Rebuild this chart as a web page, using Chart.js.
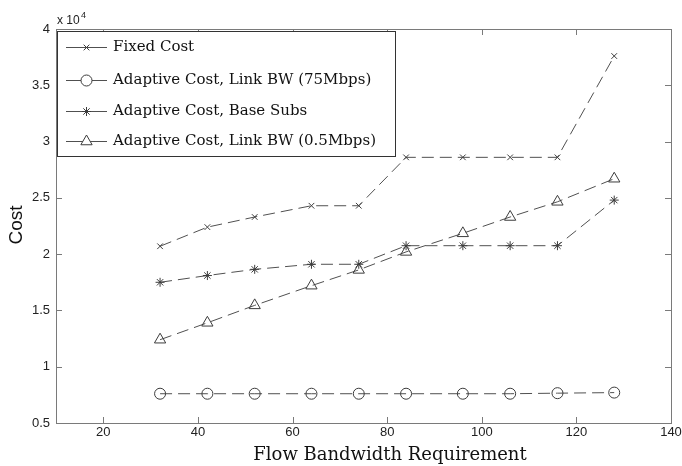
<!DOCTYPE html>
<html>
<head>
<meta charset="utf-8">
<script src="https://cdn.jsdelivr.net/npm/chart.js@4.4.1/dist/chart.umd.min.js"></script>
<style>
  html, body { margin: 0; padding: 0; background: #fff; }
  #wrap { width: 682px; height: 466px; }
</style>
</head>
<body>
<div id="wrap"><canvas id="chart" width="682" height="466"></canvas></div>
<script>
// values (cost in units, axis shows x 10^4)
const flowBw = [32, 42, 52, 64, 74, 84, 96, 106, 116, 128];
const fixedCost = [20700, 22400, 23300, 24300, 24300, 28600, 28600, 28600, 28600, 37600];
const adaptiveLink75 = [7600, 7600, 7600, 7600, 7600, 7600, 7600, 7600, 7650, 7700];
const adaptiveBaseSubs = [17500, 18100, 18650, 19100, 19100, 20750, 20750, 20750, 20750, 24800];
const adaptiveLink05 = [12400, 13900, 15450, 17200, 18600, 20200, 21850, 23300, 24650, 26700];

const seriesNames = [
  "Fixed Cost",
  "Adaptive Cost, Link BW (75Mbps)",
  "Adaptive Cost, Base Subs",
  "Adaptive Cost, Link BW (0.5Mbps)"
];
const xTicks = [20, 40, 60, 80, 100, 120, 140];
const yTicks = [5000, 10000, 15000, 20000, 25000, 30000, 35000, 40000];

const lineColor = "#505050";
const markColor = "#3c3c3c";

const makeSet = (label, values, pointStyle, radius) => ({
  label,
  data: flowBw.map((x, i) => ({ x, y: values[i] })),
  borderColor: lineColor,
  borderWidth: 1,
  borderDash: [12, 6],
  tension: 0,
  fill: false,
  pointStyle,
  pointRadius: radius,
  pointBorderColor: markColor,
  pointBorderWidth: 1,
  pointBackgroundColor: "rgba(0,0,0,0)"
});

const datasets = [
  makeSet(seriesNames[0], fixedCost, "crossRot", 4),
  makeSet(seriesNames[1], adaptiveLink75, "circle", 5.5),
  makeSet(seriesNames[2], adaptiveBaseSubs, "star", 4.5),
  makeSet(seriesNames[3], adaptiveLink05, "triangle", 6.5)
];

// box around the plot with inward ticks, like the original figure
const framePlugin = {
  id: "frame",
  afterDatasetsDraw(chart) {
    const { ctx, chartArea: a, scales: { x, y } } = chart;
    ctx.save();
    ctx.strokeStyle = "#7a7a7a";
    ctx.lineWidth = 1;
    ctx.setLineDash([]);
    ctx.strokeRect(Math.round(a.left) + 0.5, Math.round(a.top) + 0.5,
      Math.round(a.right - a.left), Math.round(a.bottom - a.top));
    ctx.beginPath();
    x.ticks.forEach(t => {
      const px = Math.round(x.getPixelForValue(t.value)) + 0.5;
      ctx.moveTo(px, a.bottom); ctx.lineTo(px, a.bottom - 6);
      ctx.moveTo(px, a.top); ctx.lineTo(px, a.top + 6);
    });
    y.ticks.forEach(t => {
      const py = Math.round(y.getPixelForValue(t.value)) + 0.5;
      ctx.moveTo(a.left, py); ctx.lineTo(a.left + 6, py);
      ctx.moveTo(a.right, py); ctx.lineTo(a.right - 6, py);
    });
    ctx.stroke();
    ctx.restore();
  }
};

// legend box in the upper left corner and the axis titles
const legendPlugin = {
  id: "boxLegend",
  afterDraw(chart) {
    const { ctx, chartArea: a } = chart;
    ctx.save();
    const left = a.left + 1, top = a.top + 2, right = 395, bottom = 156;
    ctx.fillStyle = "#fff";
    ctx.fillRect(left, top, right - left, bottom - top);
    ctx.strokeStyle = "#333";
    ctx.lineWidth = 1;
    ctx.strokeRect(left + 0.5, top + 0.5, right - left, bottom - top);

    const rows = [47, 80, 111, 141];
    chart.data.datasets.forEach((ds, i) => {
      const yy = rows[i];
      ctx.strokeStyle = lineColor;
      ctx.beginPath();
      ctx.moveTo(66, yy + 0.5); ctx.lineTo(107, yy + 0.5);
      ctx.stroke();
      ctx.strokeStyle = markColor;
      ctx.fillStyle = "#fff";
      Chart.helpers.drawPoint(ctx, {
        pointStyle: ds.pointStyle, radius: ds.pointRadius, rotation: 0, borderWidth: 1
      }, 86.5, yy + 0.5);
      ctx.fillStyle = "#111";
      ctx.font = "15px 'DejaVu Serif'";
      ctx.textBaseline = "middle";
      ctx.textAlign = "left";
      ctx.fillText(ds.label, 113, yy);
    });

    // axis titles
    ctx.fillStyle = "#111";
    ctx.font = "18px 'DejaVu Serif'";
    ctx.textAlign = "center";
    ctx.textBaseline = "middle";
    ctx.fillText("Flow Bandwidth Requirement", 390, 455);

    ctx.save();
    ctx.translate(17, 225);
    ctx.rotate(-Math.PI / 2);
    ctx.font = "19px 'Liberation Sans'";
    ctx.fillText("Cost", 0, 0);
    ctx.restore();

    // exponent label
    ctx.textAlign = "left";
    ctx.textBaseline = "alphabetic";
    ctx.fillStyle = "#222";
    ctx.font = "12px 'Liberation Sans'";
    ctx.fillText("x 10", 57, 24);
    ctx.font = "9px 'Liberation Sans'";
    ctx.fillText("4", 81, 18);
    ctx.restore();
  }
};

new Chart(document.getElementById("chart"), {
  type: "line",
  data: { datasets },
  options: {
    responsive: false,
    animation: false,
    devicePixelRatio: 1,
    layout: { padding: { top: 29, right: 11, left: 0, bottom: 0 } },
    plugins: {
      legend: { display: false },
      tooltip: { enabled: false }
    },
    scales: {
      x: {
        type: "linear",
        min: 10,
        max: 140,
        afterBuildTicks: s => { s.ticks = xTicks.map(v => ({ value: v })); },
        afterFit: s => { s.height = 43; s.paddingLeft = 0; s.paddingRight = 0; },
        grid: { display: false, drawTicks: false },
        border: { display: false },
        ticks: {
          padding: 2,
          color: "#222",
          font: { family: "'Liberation Sans'", size: 13 },
          maxRotation: 0
        }
      },
      y: {
        min: 5000,
        max: 40000,
        afterBuildTicks: s => { s.ticks = yTicks.map(v => ({ value: v })); },
        afterFit: s => { s.width = 56; },
        grid: { display: false, drawTicks: false },
        border: { display: false },
        ticks: {
          padding: 6,
          color: "#222",
          font: { family: "'Liberation Sans'", size: 13 },
          callback: v => String(v / 10000)
        }
      }
    }
  },
  plugins: [framePlugin, legendPlugin]
});
</script>
</body>
</html>
